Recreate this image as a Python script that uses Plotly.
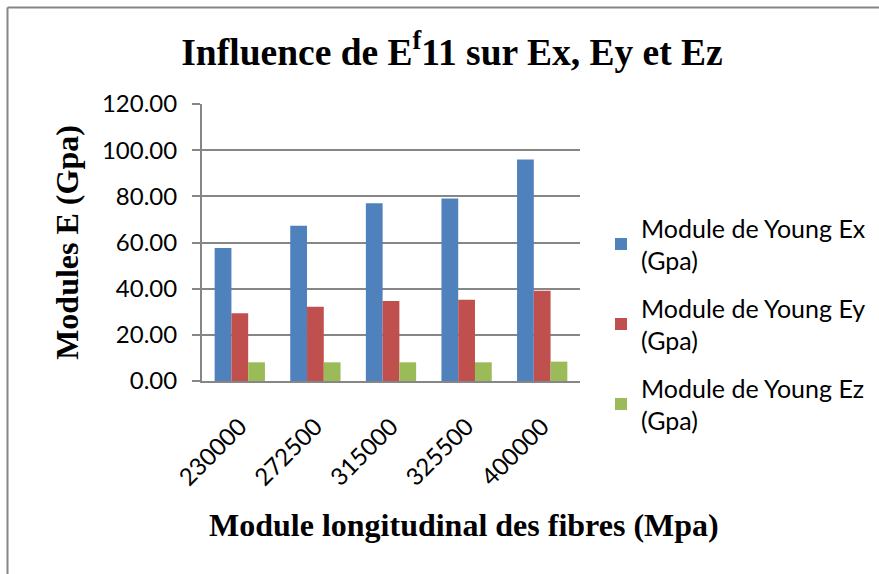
import plotly.graph_objects as go

# Fibre longitudinal modulus (MPa) on the category axis
fibre_modulus = ["230000", "272500", "315000", "325500", "400000"]

# Resulting composite Young's moduli (GPa)
ex_values = [57.6, 67.3, 77.0, 79.1, 96.0]
ey_values = [29.3, 32.2, 34.7, 35.2, 39.1]
ez_values = [8.1, 8.1, 8.1, 8.1, 8.4]

series_names = [
    "Module de Young Ex<br>(Gpa)",
    "Module de Young Ey<br>(Gpa)",
    "Module de Young Ez<br>(Gpa)",
]
series_colors = ["#4F81BD", "#C0504D", "#9BBB59"]

y_ticks = [0, 20, 40, 60, 80, 100, 120]

W, H = 879, 574
L, R, T, B = 202, 299, 104, 193
PW, PH = W - L - R, H - T - B


def px_to_paper(px, py):
    return (px - L) / PW, (H - B - py) / PH


fig = go.Figure()
for i, (name, vals, col) in enumerate(zip(series_names, [ex_values, ey_values, ez_values], series_colors)):
    fig.add_trace(go.Bar(
        x=fibre_modulus, y=vals, name=name,
        marker=dict(color=col, line=dict(width=0)),
        legendgroup=f"g{i}",
    ))

# outer chart frame: left and top edges, kept within the page
fx0, fy_top = px_to_paper(7.5, 7.5)
fx1, fy_bot = px_to_paper(W, H)
frame = dict(color="#868686", width=2)
fig.add_shape(type="line", xref="paper", yref="paper", x0=fx0, y0=fy_top, x1=fx1, y1=fy_top, line=frame)
fig.add_shape(type="line", xref="paper", yref="paper", x0=fx0, y0=fy_top, x1=fx0, y1=fy_bot, line=frame)

axis_font = dict(family="Lato", size=24, color="#000000")
serif_bold = dict(family="Liberation Serif", size=32, color="#000000")

# x-axis title placed as a free annotation
tx, ty = px_to_paper(464, 525)
fig.add_annotation(text="<b>Module longitudinal des fibres (Mpa)</b>", xref="paper", yref="paper",
                   x=tx, y=ty, xanchor="center", yanchor="middle", showarrow=False, font=serif_bold)

fig.update_layout(
    width=W, height=H,
    margin=dict(l=L, r=R, t=T, b=B, autoexpand=False),
    paper_bgcolor="white", plot_bgcolor="white",
    barmode="group", bargap=0.335, bargroupgap=0,
    title=dict(
        text="<b>Influence de E<sup>f</sup>11 sur Ex, Ey et Ez</b>",
        font=dict(family="Liberation Serif", size=37.5, color="#000000"),
        x=452 / W, xanchor="center", y=1 - 52 / H, yanchor="middle",
    ),
    xaxis=dict(
        tickangle=-45, tickfont=axis_font,
        showline=True, linecolor="#868686", linewidth=2,
        ticks="", showgrid=False,
        ticklabelstandoff=20,
    ),
    yaxis=dict(
        range=[0, 120], tickvals=y_ticks, tickformat=".2f",
        tickfont=axis_font,
        showline=True, linecolor="#868686", linewidth=2,
        ticks="outside", ticklen=8, tickcolor="#868686", tickwidth=2,
        ticklabelstandoff=10,
        showgrid=True, gridcolor="#868686", gridwidth=2,
        zeroline=False,
        title=dict(text="<b>Modules E (Gpa)</b>", font=serif_bold, standoff=14),
    ),
    legend=dict(
        x=px_to_paper(601, 0)[0], xanchor="left",
        y=px_to_paper(0, 205)[1], yanchor="top",
        font=dict(family="Lato", size=25, color="#000000"),
        traceorder="grouped", tracegroupgap=12,
        bgcolor="rgba(0,0,0,0)", itemwidth=30,
    ),
    showlegend=True,
)

fig.write_html("out.html")
